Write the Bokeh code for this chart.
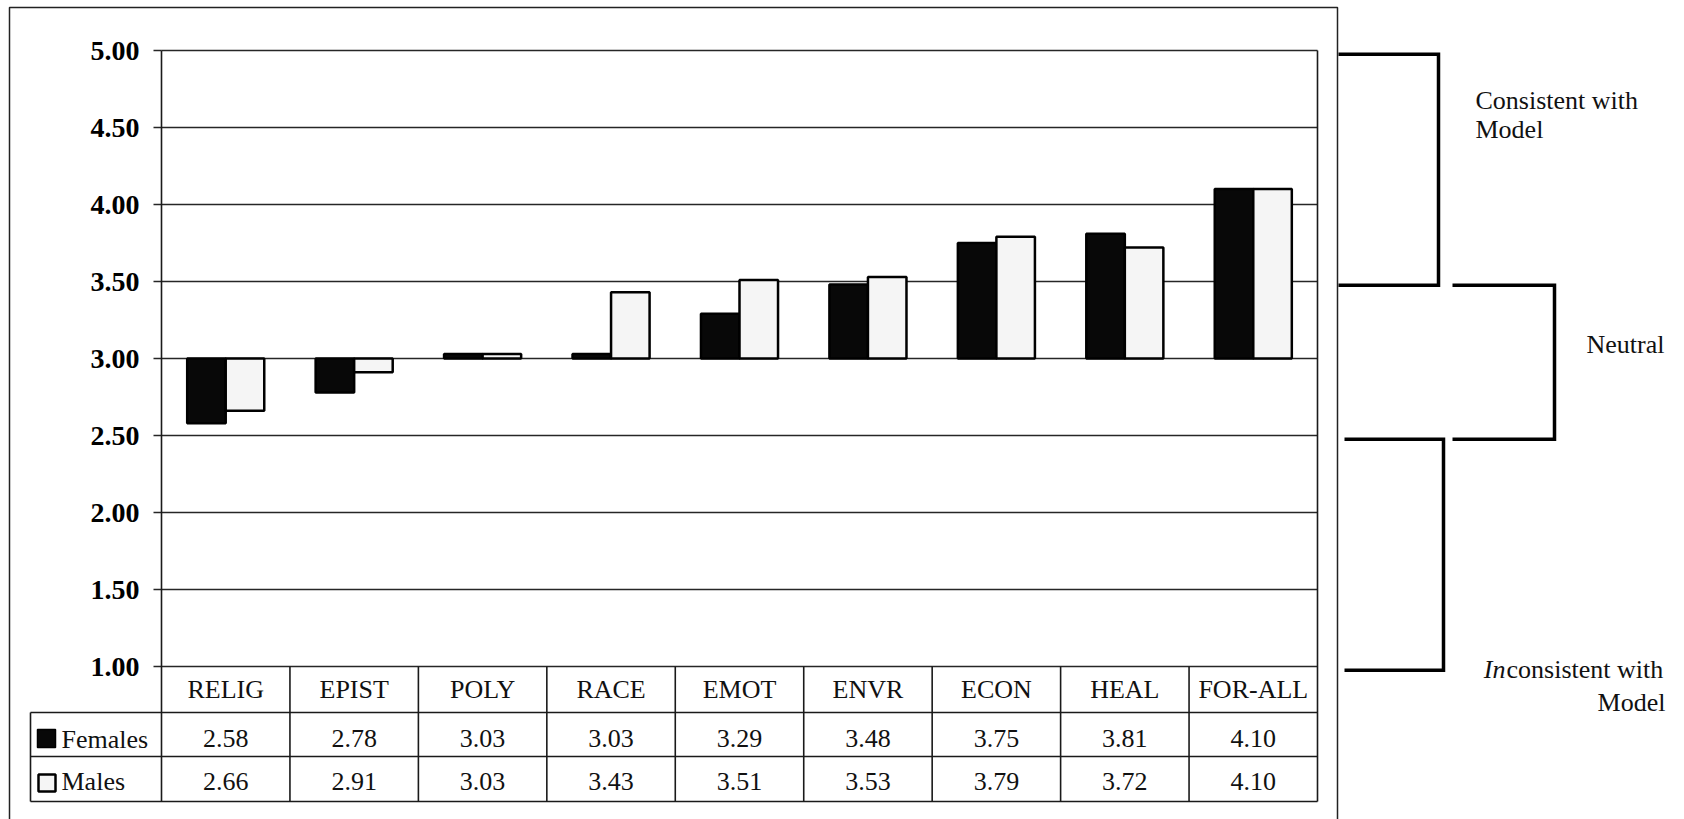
from bokeh.plotting import figure
from bokeh.models import Range1d
from bokeh.core.properties import value
from bokeh.embed import file_html
from bokeh.resources import INLINE

# ---- data -------------------------------------------------------------
categories = ["RELIG", "EPIST", "POLY", "RACE", "EMOT", "ENVR", "ECON", "HEAL", "FOR-ALL"]
females = [2.58, 2.78, 3.03, 3.03, 3.29, 3.48, 3.75, 3.81, 4.10]
males = [2.66, 2.91, 3.03, 3.43, 3.51, 3.53, 3.79, 3.72, 4.10]
series_names = ["Females", "Males"]
y_ticks = [1.0, 1.5, 2.0, 2.5, 3.0, 3.5, 4.0, 4.5, 5.0]
bar_base = 3.0
band_limits = [(3.5, 5.0), (2.5, 3.5), (1.0, 2.5)]

# ---- page geometry (pixels, origin top-left) --------------------------
W, H = 1684, 819
PLOT_L, PLOT_R = 161, 1317
PLOT_T, PLOT_B = 50, 666
Y_MIN, Y_MAX = 1.0, 5.0
TABLE_L = 30
ROW_CAT, ROW_F, ROW_M = 712, 756, 801

FONT = value("Liberation Serif")
SIZE = "26px"
INK = "#111111"

n = len(categories)
cw = (PLOT_R - PLOT_L) / n
ppv = (PLOT_B - PLOT_T) / (Y_MAX - Y_MIN)

p = figure(width=W, height=H, x_range=Range1d(0, W), y_range=Range1d(H, 0),
           x_axis_type=None, y_axis_type=None, toolbar_location=None,
           output_backend="svg", min_border=0, outline_line_color=None,
           background_fill_color="white", border_fill_color="white")
p.extra_x_ranges = {"cat": Range1d(-PLOT_L / cw, (W - PLOT_L) / cw)}
p.extra_y_ranges = {"val": Range1d(Y_MIN - (H - PLOT_B) / ppv, Y_MAX + PLOT_T / ppv)}


def label(xs, ys, texts, align="center", style="normal", size=SIZE, **kw):
    p.text(x=xs, y=ys, text=texts, text_align=align, text_baseline="middle",
           text_font=FONT, text_font_size=size, text_font_style=style,
           text_color=INK, **kw)


# outer border of the figure panel
p.line(x=[9, 9, 1337, 1337], y=[H + 10, 7, 7, H + 10], line_color="#222222", line_width=1.5)

# horizontal grid lines across the plot area
p.segment(x0=[0] * len(y_ticks), x1=[n] * len(y_ticks), y0=y_ticks, y1=y_ticks,
          x_range_name="cat", y_range_name="val", line_color="#262626", line_width=1.4)

# y axis: tick marks and labels
p.segment(x0=[PLOT_L - 8] * len(y_ticks), x1=[PLOT_L] * len(y_ticks), y0=y_ticks, y1=y_ticks,
          y_range_name="val", line_color="#262626", line_width=1.4)
p.text(x=[139] * len(y_ticks), y=y_ticks, text=[f"{t:.2f}" for t in y_ticks],
       y_range_name="val", text_align="right", text_baseline="middle",
       text_font=FONT, text_font_size="28px", text_font_style="bold", text_color="black")

# bars drawn from the neutral point 3.00
idx = list(range(n))
p.vbar(x=[i + 0.5 - 0.15 for i in idx], width=0.3, bottom=bar_base, top=females,
       x_range_name="cat", y_range_name="val",
       fill_color="#080808", line_color="black", line_width=2.5)
p.vbar(x=[i + 0.5 + 0.15 for i in idx], width=0.3, bottom=bar_base, top=males,
       x_range_name="cat", y_range_name="val",
       fill_color="#f5f5f5", line_color="black", line_width=2.5)

# plot area left / right edges (continue down through the data table)
p.segment(x0=[0, n], x1=[0, n], y0=[PLOT_T, PLOT_T], y1=[ROW_M, ROW_M],
          x_range_name="cat", line_color="#1a1a1a", line_width=1.6)

# data table rules
p.segment(x0=[TABLE_L] * 3, x1=[PLOT_R] * 3, y0=[ROW_CAT, ROW_F, ROW_M], y1=[ROW_CAT, ROW_F, ROW_M],
          line_color="#1a1a1a", line_width=1.6)
p.segment(x0=[TABLE_L], x1=[TABLE_L], y0=[ROW_CAT], y1=[ROW_M], line_color="#1a1a1a", line_width=1.6)
p.segment(x0=list(range(1, n)), x1=list(range(1, n)), y0=[PLOT_B] * (n - 1), y1=[ROW_M] * (n - 1),
          x_range_name="cat", line_color="#1a1a1a", line_width=1.6)

centers = [i + 0.5 for i in idx]
label(centers, [688.5] * n, categories, x_range_name="cat")
label(centers, [737.5] * n, [f"{v:.2f}" for v in females], x_range_name="cat")
label(centers, [781] * n, [f"{v:.2f}" for v in males], x_range_name="cat")

# legend keys inside the table
p.quad(left=[37], right=[55], top=[729], bottom=[747], fill_color="#080808", line_color="black", line_width=1.5)
p.quad(left=[38], right=[55], top=[774], bottom=[791], fill_color="#f5f5f5", line_color="black", line_width=2.5)
label([61, 61], [739, 781], series_names, align="left")

# brackets marking the interpretation bands
shift = -0.025
bx = [[1338, 1438, 1438, 1338], [1452, 1554, 1554, 1452], [1344, 1443, 1443, 1344]]
by = [[hi + shift, hi + shift, lo + shift, lo + shift] for lo, hi in band_limits]
p.multi_line(xs=bx, ys=by, y_range_name="val", line_color="black", line_width=3.5, line_join="miter")

label([1475, 1475], [100, 128.5], ["Consistent with", "Model"], align="left")
label([1586], [343.5], ["Neutral"], align="left")
label([1505], [668.5], ["In"], align="right", style="italic")
label([1506], [668.5], ["consistent with"], align="left")
label([1665], [701.5], ["Model"], align="right")

open("out.html", "w").write(file_html(p, INLINE))
